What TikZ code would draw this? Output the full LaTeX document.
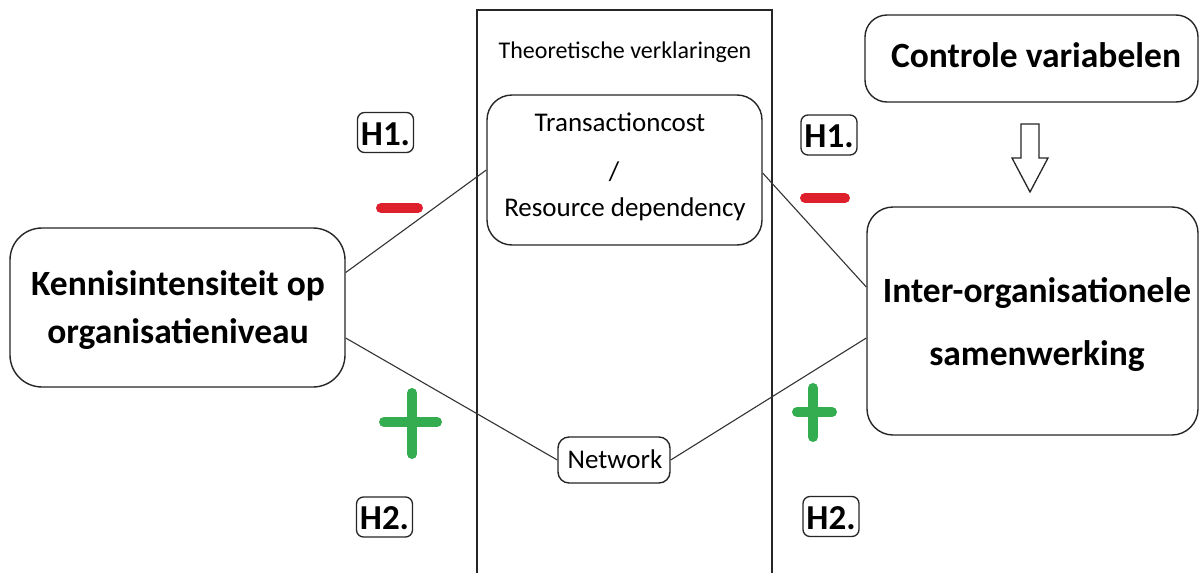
\documentclass[tikz,border=0pt]{standalone}
\usepackage{fontspec}
\setmainfont{Carlito}
\definecolor{minred}{RGB}{222,32,44}
\definecolor{plusgreen}{RGB}{52,172,80}
\tikzset{
  x=1pt,y=-1pt,
  box/.style={draw=black!85,line width=1.4pt,rounded corners=#1,inner sep=0pt},
  box/.default=25pt,
  big/.style={font=\fontsize{35.5}{40}\selectfont\bfseries,anchor=base,inner sep=0pt},
  mid/.style={font=\fontsize{27}{30}\selectfont,anchor=base,inner sep=0pt},
  hlabel/.style={draw=black!85,line width=1.3pt,rounded corners=7pt,inner sep=0pt,
    minimum width=56pt,minimum height=40pt,text height=25pt,text depth=0pt,
    font=\fontsize{35}{38}\selectfont\bfseries},
  link/.style={draw=black!80,line width=1.1pt},
  sign/.style={line width=10pt,line cap=round},
}
\begin{document}
\begin{tikzpicture}
\useasboundingbox (0,0) rectangle (1203,573);
\fill[white] (0,0) rectangle (1203,573);

% column of theoretical explanations
\draw[black!85,line width=1.4pt] (477,590) -- (477,10) -- (772,10) -- (772,590);
\node[font=\fontsize{24}{26}\selectfont,anchor=base,inner sep=0pt] (theory) at (625,58) {Theoretische verklaringen};

% explanation nodes
\node[box=25pt,minimum width=275pt,minimum height=150pt] (tc) at (624.5,170) {};
\node[mid] (tct) at (620,131) {Transactioncost};
\node[mid] (tcs) at (614,180) {/};
\node[mid] (tcr) at (625,216) {Resource dependency};
\node[box=11pt,minimum width=112pt,minimum height=46pt] (net) at (614,460) {};
\node[mid] (nett) at (615,468) {Network};

% variables
\node[box=32pt,minimum width=335pt,minimum height=159pt] (kennis) at (177.5,307.5) {};
\node[big] (kennis1) at (178,295) {Kennisintensiteit op};
\node[big] (kennis2) at (178,343) {organisatieniveau};
\node[box=26pt,minimum width=331pt,minimum height=228pt] (inter) at (1032.5,321) {};
\node[big] (inter1) at (1037,302) {Inter-organisationele};
\node[big] (inter2) at (1037,365) {samenwerking};
\node[box=22pt,minimum width=333pt,minimum height=87pt] (ctrl) at (1031.5,58.5) {};
\node[big] (ctrlt) at (1036,67) {Controle variabelen};

% hollow arrow from the control variables
\draw[black!85,line width=1.3pt,line join=miter]
  (1021,124) -- (1039,124) -- (1039,158) -- (1048,158) -- (1030,192)
  -- (1012,158) -- (1021,158) -- cycle;

% relations
\draw[link] ([yshift=35pt]kennis.east) -- (tc.west);
\draw[link] ([yshift=-30.5pt]kennis.east) -- (net.west);
\draw[link] ([yshift=-3pt]tc.east) -- ([yshift=34pt]inter.west);
\draw[link] (net.east) -- ([yshift=-17pt]inter.west);

% hypothesis labels
\node[hlabel] (h1l) at (385.5,132.5) {H1.};
\node[hlabel] (h1r) at (829,135) {H1.};
\node[hlabel] (h2l) at (384.5,517) {H2.};
\node[hlabel] (h2r) at (831,516.5) {H2.};

% signs
\draw[sign,minred] (381,208) -- (418,208);
\draw[sign,minred] (805,198) -- (845,198);
\draw[sign,plusgreen] (384,422) -- (437,422);
\draw[sign,plusgreen] (412,393) -- (412,454);
\draw[sign,plusgreen] (797,412) -- (832,412);
\draw[sign,plusgreen] (813,388) -- (813,437);
\end{tikzpicture}
\end{document}
